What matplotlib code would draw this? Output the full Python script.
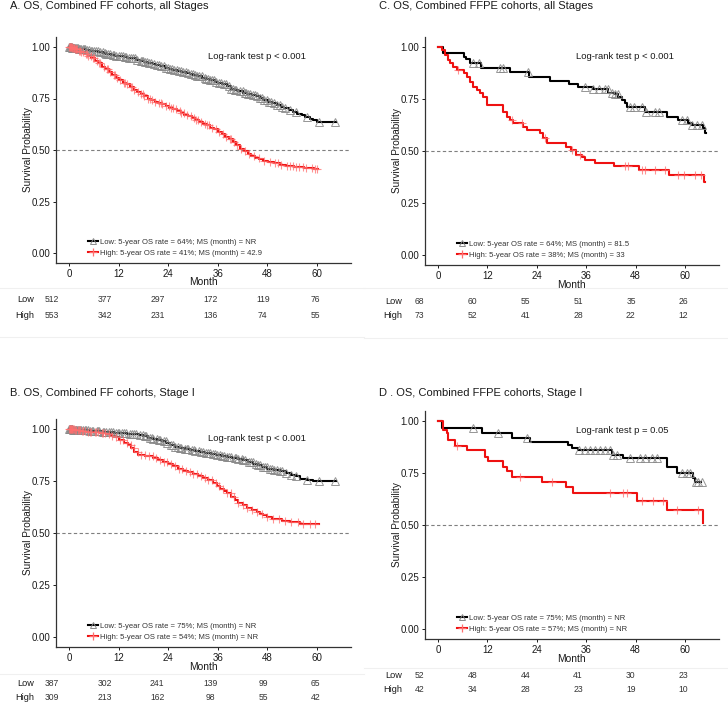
import numpy as np
import matplotlib
matplotlib.use("Agg")
import matplotlib.pyplot as plt
from matplotlib.lines import Line2D

plt.rcParams['font.family'] = ['Liberation Sans', 'DejaVu Sans']

W, H = 728, 709
fig = plt.figure(figsize=(W / 100, H / 100), dpi=100)

# ---------------- data ----------------
titles = ["A. OS, Combined FF cohorts, all Stages",
          "C. OS, Combined FFPE cohorts, all Stages",
          "B. OS, Combined FF cohorts, Stage I",
          "D . OS, Combined FFPE cohorts, Stage I"]
pvals = ["Log-rank test p < 0.001", "Log-rank test p < 0.001",
         "Log-rank test p < 0.001", "Log-rank test p = 0.05"]
legend_low = ["Low: 5-year OS rate = 64%; MS (month) = NR",
              "Low: 5-year OS rate = 64%; MS (month) = 81.5",
              "Low: 5-year OS rate = 75%; MS (month) = NR",
              "Low: 5-year OS rate = 75%; MS (month) = NR"]
legend_high = ["High: 5-year OS rate = 41%; MS (month) = 42.9",
               "High: 5-year OS rate = 38%; MS (month) = 33",
               "High: 5-year OS rate = 54%; MS (month) = NR",
               "High: 5-year OS rate = 57%; MS (month) = NR"]
month_ticks = [0, 12, 24, 36, 48, 60]
surv_ticks = [0.00, 0.25, 0.50, 0.75, 1.00]

risk_low = [[512, 377, 297, 172, 119, 76],
            [68, 60, 55, 51, 35, 26],
            [387, 302, 241, 139, 99, 65],
            [52, 48, 44, 41, 30, 23]]
risk_high = [[553, 342, 231, 136, 74, 55],
             [73, 52, 41, 28, 22, 12],
             [309, 213, 162, 98, 55, 42],
             [42, 34, 28, 23, 19, 10]]

# Panel A (FF, all stages)
a_low_t = [0, 0.8, 1.5, 2.3, 3.2, 4.1, 5.0, 6.2, 7.1, 8.3, 9.0, 10.2, 11.1, 12.0, 13.2, 14.1,
           15.0, 16.3, 17.2, 18.1, 19.0, 20.2, 21.1, 22.0, 23.3, 24.1, 25.0, 26.2, 27.1, 28.3,
           29.2, 30.1, 31.0, 32.2, 33.1, 34.0, 35.2, 36.1, 37.0, 38.3, 39.2, 40.1, 41.0, 42.2,
           43.1, 44.3, 45.2, 46.1, 47.0, 48.2, 49.1, 50.3, 51.2, 52.1, 53.3, 54.2, 55.1, 56.3,
           57.2, 58.4, 59.0, 60.1]
a_low_s = [1.0, .997, .994, .991, .988, .986, .983, .980, .977, .972, .968, .963, .958, .955,
           .951, .948, .945, .938, .933, .928, .924, .918, .912, .906, .898, .894, .889, .883,
           .878, .872, .867, .862, .857, .851, .846, .839, .831, .826, .818, .809, .798, .790,
           .784, .778, .772, .765, .760, .754, .745, .735, .727, .718, .710, .702, .694, .686,
           .676, .668, .661, .652, .645, .637]
a_low_end = 64.5
a_low_cens = [0.1, 0.2, 0.3, 0.4, 0.5, 0.6, 0.8, 0.9, 1.0, 1.2, 1.3, 1.5, 1.7, 1.9, 2.1, 2.4,
              2.6, 3.0, 3.3, 3.6, 3.9, 4.4, 4.8, 5.2, 5.6, 6.0, 6.6, 7.0, 7.5, 8.1, 8.6, 9.0,
              9.5, 9.9, 10.6, 11.0, 11.4, 12.0, 12.5, 13.1, 13.5, 13.9, 14.6, 15.0, 15.4, 16.0,
              16.5, 17.3, 17.7, 18.0, 18.5, 18.9, 19.4, 19.8, 20.6, 21.2, 21.8, 22.3, 23.0,
              23.5, 23.9, 24.4, 24.8, 25.5, 26.1, 26.6, 27.0, 27.6, 28.2, 28.9, 29.5, 30.0,
              30.4, 31.0, 31.5, 32.1, 32.8, 33.2, 33.7, 34.2, 34.6, 35.0, 35.5, 36.2, 36.8,
              37.4, 38.0, 38.7, 39.2, 39.6, 40.1, 40.5, 41.3, 42.0, 42.5, 42.9, 43.4, 43.8,
              44.6, 45.0, 45.4, 46.3, 46.7, 47.1, 47.9, 48.4, 48.8, 49.5, 50.4, 51.0, 51.6,
              52.3, 53.5, 55.0, 57.6, 60.4, 64.4]
a_high_t = [0, 0.7, 1.4, 2.2, 3.0, 3.8, 4.6, 5.4, 6.3, 7.1, 8.0, 8.8, 9.6, 10.5, 11.3, 12.2,
            13.0, 13.9, 14.7, 15.6, 16.4, 17.3, 18.1, 19.0, 19.9, 20.8, 21.6, 22.5, 23.4, 24.3,
            25.2, 26.1, 27.0, 27.9, 28.8, 29.7, 30.6, 31.5, 32.4, 33.3, 34.2, 35.1, 36.0, 36.9,
            37.8, 38.7, 39.6, 40.5, 41.4, 42.3, 43.2, 44.1, 45.0, 46.0, 47.0, 48.1, 49.5, 51.0,
            52.6, 54.5, 56.8, 59.2]
a_high_s = [1.0, .995, .990, .983, .976, .966, .955, .945, .933, .920, .905, .892, .880, .866,
            .851, .838, .826, .820, .806, .790, .780, .770, .760, .750, .742, .735, .728, .721,
            .714, .706, .698, .690, .680, .671, .663, .655, .646, .637, .628, .619, .609, .600,
            .588, .576, .564, .551, .537, .522, .507, .495, .483, .472, .462, .455, .448, .442,
            .436, .428, .423, .419, .414, .408]
a_high_end = 60.3
a_high_cens = [0.1, 0.2, 0.3, 0.4, 0.5, 0.6, 0.7, 0.9, 1.1, 1.2, 1.4, 1.6, 1.8, 2.0, 2.3, 2.7,
               3.0, 3.4, 4.0, 4.3, 4.7, 5.3, 5.7, 6.1, 6.8, 7.2, 7.6, 8.4, 9.1, 9.5, 10.0,
               10.8, 11.2, 11.7, 12.4, 13.3, 13.6, 14.0, 14.9, 15.3, 15.8, 16.6, 17.5, 17.9,
               18.2, 19.1, 19.6, 20.0, 20.9, 21.8, 22.2, 22.6, 23.5, 24.2, 24.7, 25.1, 26.0,
               26.8, 27.2, 27.7, 28.5, 29.4, 30.2, 30.7, 31.1, 32.0, 32.9, 33.3, 33.8, 34.6,
               35.5, 36.3, 37.2, 38.1, 38.9, 39.3, 39.8, 40.7, 41.6, 42.5, 43.6, 44.8, 45.9,
               47.2, 48.6, 49.9, 50.6, 51.3, 52.7, 53.4, 54.1, 54.8, 55.6, 56.5, 57.3, 58.9,
               59.6, 60.0]

# Panel C (FFPE, all stages)
c_low_t = [0, 1.3, 6.2, 6.9, 7.7, 10.5, 17.4, 22.2, 27.1, 31.9, 34.0, 37.7, 41.4, 43.0, 43.8,
           44.6, 45.4, 45.8, 50.3, 55.5, 58.4, 60.8, 61.6, 64.4, 64.9]
c_low_s = [1.0, .97, .953, .94, .925, .897, .881, .857, .838, .822, .81, .797, .78, .772, .761,
           .745, .729, .713, .689, .665, .649, .637, .625, .609, .585]
c_low_end = 65.0
c_low_cens = [8.6, 10.0, 15.1, 15.8, 21.9, 35.7, 37.7, 39.0, 40.6, 41.3, 42.2, 43.0, 43.7,
              46.6, 47.5, 49.5, 50.5, 52.7, 53.6, 59.2, 60.4, 61.6, 62.8, 64.0]
c_high_t = [0, 0.9, 1.7, 2.5, 2.9, 3.7, 4.5, 6.2, 7.0, 7.8, 8.6, 9.4, 10.2, 11.0, 11.8, 15.9,
            16.7, 17.5, 18.3, 20.7, 21.5, 24.8, 25.6, 26.4, 31.2, 32.4, 33.6, 35.0, 35.8, 38.2,
            42.7, 48.7, 56.2, 64.7]
c_high_s = [1.0, .986, .962, .938, .921, .905, .889, .873, .857, .833, .809, .793, .777, .761,
            .721, .689, .665, .649, .633, .614, .601, .585, .561, .54, .521, .505, .481, .473,
            .457, .444, .43, .41, .383, .351]
c_high_end = 64.8
c_high_cens = [4.9, 17.9, 20.3, 26.0, 32.5, 34.5, 45.4, 46.2, 49.5, 50.3, 52.7, 55.1, 58.2,
               59.8, 62.3, 63.9]

# Panel B (FF, stage I)
b_low_t = [0, 1.0, 2.2, 3.5, 5.0, 6.5, 8.0, 9.5, 11.0, 12.5, 14.0, 15.5, 17.0, 18.0, 19.2,
           20.3, 21.4, 22.5, 23.5, 24.5, 25.6, 26.8, 28.0, 29.3, 30.5, 31.8, 33.0, 34.3, 35.6,
           36.9, 38.2, 39.5, 40.8, 42.0, 43.2, 44.5, 45.7, 46.8, 48.0, 49.5, 51.0, 52.4, 53.6,
           54.8, 56.0, 57.5, 59.0]
b_low_s = [1.0, .997, .995, .993, .99, .988, .986, .984, .981, .979, .977, .975, .971, .966,
           .958, .952, .946, .94, .932, .922, .915, .909, .904, .899, .894, .889, .885, .881,
           .876, .872, .867, .862, .855, .849, .842, .834, .826, .818, .81, .805, .80, .79, .78,
           .772, .762, .756, .75]
b_low_end = 64.5
b_low_cens = [0.1, 0.2, 0.3, 0.4, 0.5, 0.6, 0.7, 0.8, 1.0, 1.1, 1.4, 1.6, 1.8, 2.0, 2.2, 2.5,
              2.7, 3.0, 3.3, 3.8, 4.1, 4.5, 5.1, 5.5, 5.9, 6.7, 7.0, 7.3, 8.2, 8.5, 8.9, 9.7,
              10.1, 10.6, 11.3, 11.8, 12.2, 12.9, 13.3, 13.8, 14.7, 15.3, 15.8, 16.2, 17.1,
              17.8, 18.3, 18.7, 19.6, 20.0, 20.4, 21.3, 21.7, 22.1, 23.0, 23.4, 23.8, 24.7,
              25.2, 25.6, 26.3, 26.8, 27.2, 28.1, 28.5, 28.9, 29.8, 30.2, 30.6, 31.5, 31.9,
              32.3, 33.2, 33.6, 34.0, 34.9, 35.4, 35.8, 36.6, 37.0, 37.5, 38.3, 38.8, 39.2,
              40.1, 40.5, 40.9, 41.8, 42.2, 42.6, 43.5, 44.0, 44.4, 45.3, 45.7, 46.1, 47.0,
              47.4, 47.8, 48.7, 49.1, 49.6, 50.4, 51.0, 51.5, 52.6, 53.7, 54.9, 57.5, 60.5,
              64.4]
b_high_t = [0, 1.5, 3.0, 4.5, 6.0, 7.5, 9.0, 10.2, 11.2, 12.2, 13.2, 14.2, 15.0, 15.8, 16.8,
            18.5, 20.3, 21.5, 22.8, 24.0, 25.2, 26.4, 27.6, 28.8, 30.0, 31.3, 32.5, 33.7, 34.9,
            35.7, 36.5, 37.4, 38.2, 39.2, 40.2, 41.0, 42.0, 43.0, 44.2, 45.4, 46.2, 47.0, 48.0,
            49.1, 51.5, 53.5, 55.9]
b_high_s = [1.0, .995, .99, .987, .985, .98, .975, .968, .96, .948, .935, .925, .91, .89, .876,
            .868, .86, .85, .84, .83, .82, .81, .80, .792, .785, .775, .765, .755, .74, .725,
            .71, .70, .69, .675, .658, .645, .633, .62, .61, .60, .592, .585, .575, .565, .56,
            .555, .545]
b_high_end = 60.4
b_high_cens = [0.1, 0.2, 0.3, 0.4, 0.5, 0.6, 0.8, 1.0, 1.3, 1.5, 1.7, 2.1, 2.4, 2.6, 3.2, 3.5,
               3.9, 4.6, 5.0, 5.3, 6.2, 6.6, 7.0, 7.9, 8.3, 8.8, 9.6, 10.5, 11.4, 12.3, 13.1,
               14.0, 14.9, 15.7, 16.6, 17.5, 18.4, 19.3, 20.2, 21.1, 22.0, 22.9, 23.8, 24.7,
               25.6, 26.5, 27.4, 28.3, 29.2, 30.1, 31.0, 31.9, 32.8, 33.7, 34.6, 35.5, 36.4,
               37.3, 38.2, 39.1, 40.0, 41.0, 42.0, 43.1, 44.3, 45.5, 46.8, 48.0, 49.4, 50.9,
               52.3, 53.8, 55.3, 56.7, 58.2, 59.6]

# Panel D (FFPE, stage I)
d_low_t = [0, 0.9, 10.6, 17.9, 22.3, 31.6, 32.5, 34.1, 42.2, 45.0, 55.5, 58.0, 62.0, 62.4]
d_low_s = [1.0, .965, .941, .92, .901, .885, .872, .861, .837, .821, .780, .748, .724, .708]
d_low_end = 63.8
d_low_cens = [8.6, 14.6, 21.5, 34.3, 35.7, 36.9, 38.1, 39.3, 40.6, 41.8, 42.6, 43.4, 46.6,
              49.1, 50.3, 51.9, 53.1, 59.2, 60.4, 61.2, 62.6, 63.2, 64.0]
d_high_t = [0, 1.3, 2.1, 2.5, 4.1, 7.0, 11.4, 12.2, 15.9, 16.7, 17.9, 25.2, 31.2, 32.9, 48.3,
            55.5, 64.4]
d_high_s = [1.0, .957, .941, .909, .881, .861, .829, .808, .78, .76, .732, .708, .684, .652,
            .617, .572, .508]
d_high_end = 64.45
d_high_cens = [4.5, 19.9, 27.6, 41.8, 45.0, 45.8, 49.5, 52.3, 54.7, 58.0, 63.2]

panels = [
    (a_low_t, a_low_s, a_low_end, a_low_cens, a_high_t, a_high_s, a_high_end, a_high_cens),
    (c_low_t, c_low_s, c_low_end, c_low_cens, c_high_t, c_high_s, c_high_end, c_high_cens),
    (b_low_t, b_low_s, b_low_end, b_low_cens, b_high_t, b_high_s, b_high_end, b_high_cens),
    (d_low_t, d_low_s, d_low_end, d_low_cens, d_high_t, d_high_s, d_high_end, d_high_cens),
]

# ---------------- layout (pixels) ----------------
boxes = [(55.6, 36.7, 351.1, 263.3),
         (424.6, 36.6, 719.0, 265.4),
         (55.6, 418.6, 351.1, 647.4),
         (424.6, 410.6, 719.0, 639.4)]
title_pos = [(10, 6), (379, 6), (10, 393), (379, 393)]
risk_rows = [(300, 315), (301, 316), (683.3, 697.7), (675, 690)]
risk_x0 = [51.7, 419.7, 51.7, 419.7]
risk_label_x = [34, 402, 34, 402]
risk_step = 52.8
sep_lines = [(288, 337, 0, 364), (288, 338, 364, 728), (674, None, 0, 364), (668, None, 364, 728)]

TXT = '#1a1a1a'


def fx(x):
    return x / W


def fy(y):
    return 1 - y / H


def step_value(t, s, x):
    idx = np.searchsorted(np.asarray(t), np.asarray(x), side='right') - 1
    return np.asarray(s)[idx]


for i, (box, data) in enumerate(zip(boxes, panels)):
    l, t_, r, b = box
    ax = fig.add_axes([fx(l), fy(b), (r - l) / W, (b - t_) / H])
    lt, ls, lend, lc, ht, hs, hend, hc = data
    assert len(lt) == len(ls) and len(ht) == len(hs)

    ax.axhline(0.5, color='#7f7f7f', lw=0.8, ls=(0, (3, 2.2)), zorder=1)

    ax.step(list(lt) + [lend], list(ls) + [ls[-1]], where='post', color='black', lw=1.5,
            zorder=3)
    ax.step(list(ht) + [hend], list(hs) + [hs[-1]], where='post', color='#ee1111', lw=1.5,
            zorder=3)
    ax.plot(lc, step_value(lt, ls, lc), ls='none', marker='^', ms=5.2, mfc='none',
            mec='#8a8a8a', mew=0.7, alpha=0.9, zorder=4)
    ax.plot(hc, step_value(ht, hs, hc), ls='none', marker='+', ms=6.0, color='#ff6f6f',
            mew=0.8, alpha=0.75, zorder=4)

    ax.set_xlim(-3.25, 68.25)
    ax.set_ylim(-0.05, 1.05)
    ax.set_xticks(month_ticks)
    ax.set_yticks(surv_ticks)
    ax.set_yticklabels([f"{v:.2f}" for v in surv_ticks])
    ax.tick_params(axis='both', labelsize=7.0, colors=TXT, length=2.2, width=0.7, pad=1.5)
    ax.tick_params(axis='x', pad=2.0)
    for sp in ['top', 'right']:
        ax.spines[sp].set_visible(False)
    for sp in ['left', 'bottom']:
        ax.spines[sp].set_color('#333333')
        ax.spines[sp].set_linewidth(0.9)

    ax.set_xlabel("Month", fontsize=7.4, color=TXT)
    ax.xaxis.set_label_coords(0.5, -0.084)
    ax.xaxis.label.set_va('center')
    ax.set_ylabel("Survival Probability", fontsize=7.2, color=TXT)
    ax.yaxis.set_label_coords(-0.095, 0.5)
    ax.yaxis.label.set_va('center')

    ax.text(33.6, 0.952, pvals[i], fontsize=6.8, color=TXT, ha='left', va='center')

    handles = [Line2D([], [], color='black', lw=1.5, marker='^', ms=4.0, mfc='none',
                      mec='#8a8a8a', mew=0.7),
               Line2D([], [], color='#ee1111', lw=1.5, marker='+', ms=5.5, mec='#ff6f6f',
                      mew=0.9)]
    leg = ax.legend(handles, [legend_low[i], legend_high[i]], loc='lower left',
                    bbox_to_anchor=(0.11, 0.03), frameon=False, fontsize=5.5,
                    handlelength=1.3, handletextpad=0.3, labelspacing=0.4,
                    borderpad=0.0, borderaxespad=0.0)
    for txt in leg.get_texts():
        txt.set_color('#333333')

    tx, ty = title_pos[i]
    fig.text(fx(tx), fy(ty), titles[i], fontsize=8.0, color=TXT, ha='left', va='center')

    ry_low, ry_high = risk_rows[i]
    fig.text(fx(risk_label_x[i]), fy(ry_low), "Low", fontsize=6.6, color=TXT,
             ha='right', va='center')
    fig.text(fx(risk_label_x[i]), fy(ry_high), "High", fontsize=6.6, color=TXT,
             ha='right', va='center')
    for k in range(len(month_ticks)):
        xx = risk_x0[i] + k * risk_step
        fig.text(fx(xx), fy(ry_low), str(risk_low[i][k]), fontsize=6.2, color='#333333',
                 ha='center', va='center')
        fig.text(fx(xx), fy(ry_high), str(risk_high[i][k]), fontsize=6.2, color='#333333',
                 ha='center', va='center')

for y1, y2, x1, x2 in sep_lines:
    for yy in (y1, y2):
        if yy is None:
            continue
        fig.add_artist(Line2D([fx(x1), fx(x2)], [fy(yy), fy(yy)], color='#f0f0f0', lw=0.8))

fig.savefig("out.png", dpi=100)
